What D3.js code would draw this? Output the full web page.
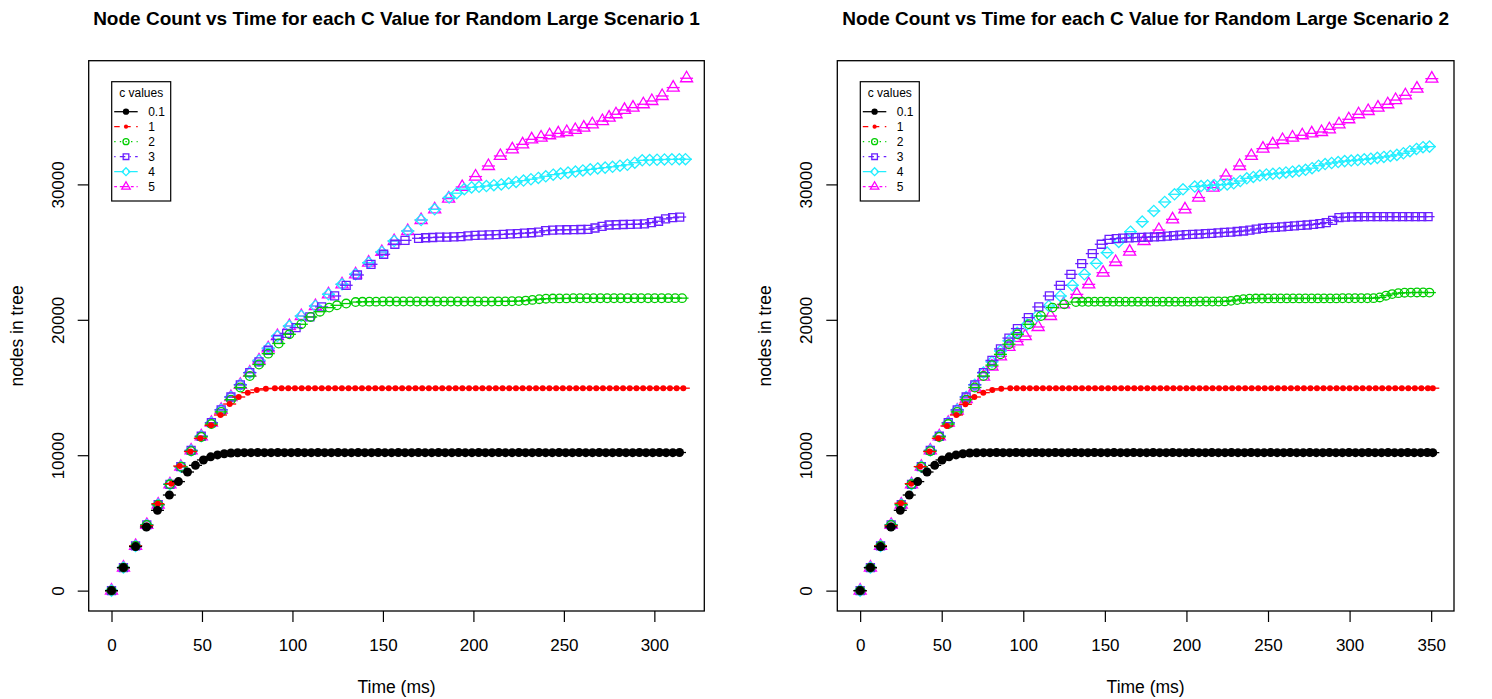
<!DOCTYPE html>
<html><head><meta charset="utf-8">
<script src="https://cdn.jsdelivr.net/npm/d3@7"></script>
<style>body{margin:0;background:#fff}svg{display:block}text{font-family:"Liberation Sans",Arial,Helvetica,sans-serif;fill:#000}</style>
</head><body><svg id="chart" width="1492" height="699"></svg>
<script>
// ---------------- DATA ----------------
const cValues = ["0.1","1","2","3","4","5"];
const titles = ["Node Count vs Time for each C Value for Random Large Scenario 1","Node Count vs Time for each C Value for Random Large Scenario 2"];
const xLabel = "Time (ms)";
const yLabel = "nodes in tree";
const legendTitle = "c values";
const xTicksLeft = [0,50,100,150,200,250,300];
const xTicksRight = [0,50,100,150,200,250,300,350];
const yTicks = [0,10000,20000,30000];
const xMaxLeft = 315, xMaxRight = 350, yMaxAll = 37630;

// Left panel: [time ms, nodes]
const L_c01 = [[0,0],[6.6,1700],[13.3,3250],[19.3,4700],[25.4,5930],[32,7060],[37,8050],[42,8760],[46.4,9250],[50.8,9650],[54.8,9880],[58.6,10020],[62.3,10110],[66,10160],[69.7,10180],
[73.4,10190],[77.1,10190],[80.8,10200],[84.5,10190],[88.2,10190],[91.9,10200],[95.6,10190],[99.3,10190],[103,10200],[106.7,10190],
[110.4,10190],[114.1,10200],[117.8,10190],[121.5,10190],[125.2,10200],[128.9,10190],[132.6,10190],[136.3,10200],[140,10190],[143.7,10190],
[147.4,10200],[151.1,10190],[154.8,10190],[158.5,10200],[162.2,10190],[165.9,10190],[169.6,10200],[173.3,10190],[177,10190],[180.7,10200],
[184.4,10190],[188.1,10190],[191.8,10200],[195.5,10190],[199.2,10190],[202.9,10200],[206.6,10190],[210.3,10190],[214,10200],[217.7,10190],
[221.4,10190],[225.1,10200],[228.8,10190],[232.5,10190],[236.2,10200],[239.9,10190],[243.6,10190],[247.3,10200],[251,10190],[254.7,10190],
[258.4,10200],[262.1,10190],[265.8,10190],[269.5,10200],[273.2,10190],[276.9,10190],[280.6,10200],[284.3,10190],[288,10190],[291.7,10200],
[295.4,10190],[299.1,10190],[302.8,10200],[306.5,10190],[310.2,10190],[313.9,10200]];
const L_c1 = [[0,0],[6.6,1700],[13.3,3300],[19.5,4800],[25.6,6420],[33.1,7900],[37.7,9200],[43.6,10270],[49.1,11250],[55,12210],[60.2,12970],[65.3,13780],[70.3,14300],[75.3,14620],[80.3,14820],[85.3,14910],[90.3,14940],
[94,14950],[97.7,14950],[101.4,14950],[105.1,14950],[108.8,14950],[112.5,14950],[116.2,14950],[119.9,14950],[123.6,14950],[127.3,14950],
[131,14950],[134.7,14950],[138.4,14950],[142.1,14950],[145.8,14950],[149.5,14950],[153.2,14950],[156.9,14950],[160.6,14950],[164.3,14950],
[168,14950],[171.7,14950],[175.4,14950],[179.1,14950],[182.8,14950],[186.5,14950],[190.2,14950],[193.9,14950],[197.6,14950],[201.3,14950],
[205,14950],[208.7,14950],[212.4,14950],[216.1,14950],[219.8,14950],[223.5,14950],[227.2,14950],[230.9,14950],[234.6,14950],[238.3,14950],
[242,14950],[245.7,14950],[249.4,14950],[253.1,14950],[256.8,14950],[260.5,14950],[264.2,14950],[267.9,14950],[271.6,14950],[275.3,14950],
[279,14950],[282.7,14950],[286.4,14950],[290.1,14950],[293.8,14950],[297.5,14950],[301.2,14950],[304.9,14950],[308.6,14950],[312.3,14950],[316,14950]];
const L_c2 = [[0,0],[6.6,1700],[13.3,3300],[19.5,4850],[25.8,6350],[32.3,7850],[38.5,9150],[44,10300],[49.6,11350],[55.2,12300],[60.6,13200],[66,14100],[71.2,15000],[76.4,15850],[81.5,16700],[86.6,17500],[92.4,18250],[98.3,18930],[104.9,19670],[110.1,20210],[115.2,20600],[120.3,20900],[124.6,21070],[129.7,21200],[134.9,21310],
[138.7,21330],[142.5,21340],[146.2,21340],[150,21350],[153.7,21350],[157.5,21350],[161.2,21350],[165,21350],[168.8,21350],[172.5,21350],
[176.3,21350],[180,21350],[183.8,21350],[187.5,21350],[191.3,21350],[195,21350],[198.8,21350],[202.6,21350],[206.3,21350],[210.1,21350],
[213.8,21360],[217.6,21360],[221.3,21370],[225.1,21380],[228.9,21420],[232.6,21470],[236.4,21520],[240.1,21560],[243.9,21570],[247.6,21580],
[251.4,21580],[255.2,21590],[258.9,21590],[262.7,21590],[266.4,21590],[270.2,21590],[273.9,21590],[277.7,21590],[281.4,21590],[285.2,21590],
[289,21590],[292.7,21590],[296.5,21590],[300.2,21590],[304,21590],[307.7,21600],[311.5,21600],[315.3,21600]];
const L_c3 = [[0,0],[6.6,1700],[13.3,3300],[19.5,4850],[25.8,6350],[32.3,7850],[38.3,9150],[44,10350],[49.6,11400],[55.2,12400],[60.6,13350],[66,14300],[71.2,15200],[76.4,16100],[81.5,16900],[86.6,17750],[91.7,18550],[96.8,19000],[102,19420],[109.6,20210],[116.1,20950],[123.3,21760],[129.7,22550],[135.9,23310],[143.4,24100],[150.4,24840],[156.6,25580],[162.2,25870],[169.7,26020],
[173.6,26060],[177.5,26080],[181.4,26100],[185.3,26110],[189.2,26120],[193.1,26150],[197,26200],[200.9,26230],[204.8,26250],[208.7,26270],
[212.6,26290],[216.5,26310],[220.4,26340],[224.3,26370],[228.2,26400],[232.1,26430],[236,26480],[239.9,26580],[243.8,26620],[247.7,26640],
[251.6,26650],[255.5,26660],[259.4,26670],[263.3,26680],[267.2,26780],[271.1,26900],[275,27000],[278.9,27020],[282.8,27040],[286.7,27050],
[290.6,27060],[294.5,27080],[298.4,27180],[302.3,27280],[306.2,27450],[310.1,27540],[314,27590]];
const L_c4 = [[0,0],[6.6,1700],[13.3,3300],[19.5,4850],[25.8,6350],[32.3,7850],[38.3,9150],[44,10350],[49.6,11400],[55.2,12400],[60.6,13350],[66,14300],[71.2,15200],[76.4,16100],[81.5,17000],[86.6,17900],[91.7,18800],[98.3,19540],[104.9,20280],[112.7,21020],[119.9,21880],[127.4,22620],[134.9,23360],[142.1,24220],[149.4,25010],[156.2,25820],[163.7,26560],[171.1,27370],[178.6,28160],[186.6,29030],[190.8,29350],[195,29650],
[199,29780],[203.1,29820],[207.2,29880],[211.3,29940],[215.4,30000],[219.5,30080],[223.6,30180],[227.7,30280],[231.8,30380],[235.9,30480],
[240,30600],[244.1,30720],[248.2,30800],[252.3,30870],[256.4,30950],[260.5,31030],[264.6,31110],[268.7,31180],[272.8,31240],[276.9,31300],
[281,31380],[285.1,31450],[289.2,31600],[293.3,31780],[297.4,31800],[301.5,31820],[305.6,31840],[309.7,31850],[313.8,31860],[317.2,31860]];
const L_c5 = [[0,0],[6.6,1700],[13.3,3300],[19.5,4850],[25.8,6350],[32.3,7850],[38.3,9150],[44,10350],[49.6,11400],[55.2,12400],[60.6,13350],[66,14300],[71.2,15200],[76.4,16100],[81.5,17000],[86.6,17900],[91.7,18800],[98.3,19540],[104.9,20280],[112.7,21020],[119.9,21880],[127.4,22620],[134.9,23360],[142.1,24220],[149.4,25010],[156.2,25820],[163.7,26560],[171.1,27370],[178.6,28160],[186.3,28950],[193.8,29810],[201.2,30580],[208.3,31360],[214.9,32100],[221.5,32590],[227.2,32960],[232.2,33330],
[237.4,33460],[242.1,33630],[246.9,33770],[251.6,33870],[256.3,34020],[261,34190],[265.7,34440],[271.3,34680],[275,34930],[278.8,35180],[283.5,35500],[288.2,35670],[293.9,35920],[298.6,36160],[304.3,36530],[310.4,37150],[317.8,37840]];

// Right panel: [time ms, nodes]
const R_c01 = [[0,0],[6.3,1700],[12.5,3250],[18.9,4700],[24.6,5930],[30.1,7060],[35.3,8050],[41,8760],[45.7,9250],[50.2,9650],[54.5,9880],[58.8,10020],[63,10110],[67.2,10160],[71.4,10180],
[75.6,10190],[79.6,10190],[83.6,10200],[87.6,10190],[91.6,10190],[95.6,10200],[99.6,10190],[103.6,10190],[107.6,10200],[111.6,10190],
[115.6,10190],[119.6,10200],[123.6,10190],[127.6,10190],[131.6,10200],[135.6,10190],[139.6,10190],[143.6,10200],[147.6,10190],[151.6,10190],
[155.6,10200],[159.6,10190],[163.6,10190],[167.6,10200],[171.6,10190],[175.6,10190],[179.6,10200],[183.6,10190],[187.6,10190],[191.6,10200],
[195.6,10190],[199.6,10190],[203.6,10200],[207.6,10190],[211.6,10190],[215.6,10200],[219.6,10190],[223.6,10190],[227.6,10200],[231.6,10190],
[235.6,10190],[239.6,10200],[243.6,10190],[247.6,10190],[251.6,10200],[255.6,10190],[259.6,10190],[263.6,10200],[267.6,10190],[271.6,10190],
[275.6,10200],[279.6,10190],[283.6,10190],[287.6,10200],[291.6,10190],[295.6,10190],[299.6,10200],[303.6,10190],[307.6,10190],[311.6,10200],
[315.6,10190],[319.6,10190],[323.6,10200],[327.6,10190],[331.6,10190],[335.6,10200],[339.6,10190],[343.6,10190],[347.6,10200],[351,10190]];
const R_c1 = [[0,0],[6.3,1700],[12.5,3300],[19,4800],[25,6450],[31.3,7900],[36.8,9160],[42.6,10270],[47.9,11250],[53.2,12160],[59,12970],[64.5,13760],[70,14300],[75.5,14620],[81,14820],[86.5,14910],[92,14940],
[96,14950],[100,14950],[104,14950],[108,14950],[112,14950],[116,14950],[120,14950],[124,14950],[128,14950],[132,14950],
[136,14950],[140,14950],[144,14950],[148,14950],[152,14950],[156,14950],[160,14950],[164,14950],[168,14950],[172,14950],
[176,14950],[180,14950],[184,14950],[188,14950],[192,14950],[196,14950],[200,14950],[204,14950],[208,14950],[212,14950],
[216,14950],[220,14950],[224,14950],[228,14950],[232,14950],[236,14950],[240,14950],[244,14950],[248,14950],[252,14950],
[256,14950],[260,14950],[264,14950],[268,14950],[272,14950],[276,14950],[280,14950],[284,14950],[288,14950],[292,14950],
[296,14950],[300,14950],[304,14950],[308,14950],[312,14950],[316,14950],[320,14950],[324,14950],[328,14950],[332,14950],
[336,14950],[340,14950],[344,14950],[348,14950],[351,14950]];
const R_c2 = [[0,0],[6.3,1700],[12.5,3300],[19,4850],[25.2,6350],[31.5,7850],[37.5,9150],[43,10300],[48.5,11350],[54,12300],[59.5,13200],[65,14100],[70.3,15000],[75.6,15850],[80.8,16650],[86,17450],[91.2,18200],[96.4,18930],[103.6,19670],[110.8,20280],[117.9,20900],[125.1,21140],[132.3,21310],
[136.1,21330],[139.9,21330],[143.7,21340],[147.5,21340],[151.3,21340],[155.1,21340],[158.9,21340],[162.7,21340],[166.5,21340],[170.3,21340],
[174.1,21340],[177.9,21340],[181.7,21340],[185.5,21340],[189.3,21340],[193.1,21340],[196.9,21340],[200.7,21340],[204.5,21340],[208.3,21350],
[212.1,21350],[215.9,21350],[219.7,21350],[223.5,21360],[227.3,21400],[231.1,21460],[234.9,21520],[238.7,21560],[242.5,21570],[246.3,21570],
[250.1,21580],[253.9,21580],[257.7,21580],[261.5,21580],[265.3,21580],[269.1,21580],[272.9,21580],[276.7,21580],[280.5,21580],[284.3,21580],
[288.1,21580],[291.9,21580],[295.7,21590],[299.5,21590],[303.3,21590],[307.1,21590],[310.9,21590],[314.7,21600],[318.5,21650],[322.3,21780],
[326.1,21900],[329.9,21970],[333.7,22000],[337.5,22010],[341.3,22020],[345.1,22020],[348.9,22010]];
const R_c3 = [[0,0],[6.3,1700],[12.5,3300],[19,4850],[25.2,6350],[31.5,7850],[37.5,9150],[43,10350],[48.5,11400],[54,12400],[59.5,13350],[65,14300],[70.3,15200],[75.6,16100],[80.8,17000],[86,17850],[91.2,18650],[96.4,19350],[103.1,20160],[109.5,20950],[116,21760],[122.7,22550],[129.2,23360],[135.8,24150],[142.3,24890],[147.8,25580],[152.6,25940],
[157,26000],[160.9,26030],[164.8,26050],[168.7,26070],[172.6,26090],[176.5,26110],[180.4,26130],[184.3,26150],[188.2,26180],[192.1,26210],
[196,26250],[199.9,26290],[203.8,26310],[207.7,26330],[211.6,26360],[215.5,26390],[219.4,26420],[223.3,26450],[227.2,26480],[231.1,26520],
[235,26560],[238.9,26620],[242.8,26700],[246.7,26760],[250.6,26810],[254.5,26830],[258.4,26860],[262.3,26900],[266.2,26940],[270.1,26970],
[274,27000],[277.9,27050],[281.8,27100],[285.7,27180],[289.6,27350],[293.5,27550],[297.4,27580],[301.3,27600],[305.2,27610],[309.1,27620],
[313,27620],[316.9,27620],[320.8,27620],[324.7,27620],[328.6,27620],[332.5,27620],[336.4,27620],[340.3,27620],[344.2,27620],[348.1,27620]];
const R_c4 = [[0,0],[6.3,1700],[12.5,3300],[19,4850],[25.2,6350],[31.5,7850],[37.5,9150],[43,10350],[48.5,11400],[54,12400],[59.5,13350],[65,14300],[70.3,15200],[75.6,16100],[80.8,16900],[86,17700],[91.2,18450],[96.2,19050],[102.3,19650],[108.4,20280],[115.6,21020],[122.7,21760],[130.1,22550],[137.5,23360],[144.7,24170],[151.4,24960],[158.5,25750],[165.7,26510],[172.9,27250],[180,28040],[186.7,28700],[192.7,29270],[197.9,29640],[205.1,29840],
[209,29880],[213,29920],[217,29950],[221,29980],[225,30000],[229,30080],[233,30250],[237,30450],[241,30550],[245,30650],
[249,30730],[253,30780],[257,30830],[261,30880],[265,30940],[269,31000],[273,31080],[277,31200],[281,31380],[285,31500],
[289,31580],[293,31650],[297,31720],[301,31760],[305,31800],[309,31850],[313,31900],[317,31960],[321,32030],[325,32100],
[329,32180],[333,32300],[337,32450],[341,32620],[345,32750],[349,32790]];
const R_c5 = [[0,0],[6.3,1700],[12.5,3300],[19,4850],[25.2,6350],[31.5,7850],[37.5,9150],[43,10350],[48.5,11400],[54,12400],[59.5,13300],[65,14150],[70.3,15000],[75.6,15800],[80.8,16550],[86,17300],[91.2,18000],[96.2,18400],
[101.2,18800],[109.1,19470],[116.7,20280],[124.6,21140],[132.8,21880],[140.1,22620],[148.9,23480],[156.6,24270],[165.2,25040],[174,25820],[183.1,26630],[191.5,27420],[199.1,28160],[207.5,29030],[216.3,29760],[224.2,30620],[232.6,31360],[239.8,32100],[246.9,32640],[252.9,32960],[258.9,33280],
[265,33460],[271,33630],[276.8,33770],[282.8,33870],[287.6,34070],[293.5,34440],[299.5,34810],[305.5,35180],[311.4,35420],[317.4,35670],[323.4,35920],[328.2,36230],[334.2,36580],[341.3,37070],[350.4,37810]];

const leftSeries = [L_c01, L_c1, L_c2, L_c3, L_c4, L_c5];
const rightSeries = [R_c01, R_c1, R_c2, R_c3, R_c4, R_c5];

// ---------------- STYLE ----------------
const colors = ["#000000","#ff0000","#00cd00","#6a1fff","#22eeff","#ff00ff"];
const shapes = ["pch16","pch20","pch1","pch0","pch5","pch2"];
const dashes = [null,"5.5,5.5","1.4,4.2","1.4,4.2,5.5,4.2","9.7,4.2","2.8,2.8,8.3,2.8"];

const svg = d3.select("#chart");
const yTop = 60.7, yBot = 611;
const panels = [
  {x0:88.7, x1:704.3, xMax:xMaxLeft, xTicks:xTicksLeft, title:titles[0], series:leftSeries},
  {x0:837.3, x1:1454, xMax:xMaxRight, xTicks:xTicksRight, title:titles[1], series:rightSeries}
];

function symbolPath(shape, cx, cy, s) {
  switch (shape) {
    case "pch0": { const h = 4*s; return `M${cx-h},${cy-h}H${cx+h}V${cy+h}H${cx-h}Z`; }
    case "pch5": { const h = 5.6*s; return `M${cx},${cy-h}L${cx+h},${cy}L${cx},${cy+h}L${cx-h},${cy}Z`; }
    case "pch2": { const r = 7*s, yc = 3.5*s, xc = 6.06*s; return `M${cx},${cy-r}L${cx+xc},${cy+yc}L${cx-xc},${cy+yc}Z`; }
  }
  return "";
}
function drawSymbol(g, shape, cx, cy, color, s) {
  if (shape === "pch16") g.append("circle").attr("cx",cx).attr("cy",cy).attr("r",4.5*s).attr("fill",color);
  else if (shape === "pch20") g.append("circle").attr("cx",cx).attr("cy",cy).attr("r",3*s).attr("fill",color);
  else if (shape === "pch1") g.append("circle").attr("cx",cx).attr("cy",cy).attr("r",4.3*s).attr("fill","none").attr("stroke",color).attr("stroke-width",1.3);
  else g.append("path").attr("d",symbolPath(shape,cx,cy,s)).attr("fill","none").attr("stroke",color).attr("stroke-width",1.3);
}

panels.forEach((p) => {
  const x = d3.scaleLinear().domain([-0.04*p.xMax, 1.04*p.xMax]).range([p.x0, p.x1]);
  const y = d3.scaleLinear().domain([-0.04*yMaxAll, 1.04*yMaxAll]).range([yBot, yTop]);
  const g = svg.append("g");

  const xa = g.append("g").attr("transform",`translate(0,${yBot})`)
    .call(d3.axisBottom(x).tickValues(p.xTicks).tickSize(11).tickFormat(d3.format("d")));
  xa.select(".domain").remove();
  xa.selectAll("line").attr("stroke","#000").attr("stroke-width",1.2);
  xa.selectAll("text").attr("y",39.5).attr("dy",0).style("font-size","17px").attr("fill","#000")
    .attr("font-family","Liberation Sans, Arial, sans-serif");

  const ya = g.append("g").attr("transform",`translate(${p.x0},0)`)
    .call(d3.axisLeft(y).tickValues(yTicks).tickSize(11).tickFormat(d3.format("d")));
  ya.select(".domain").remove();
  ya.selectAll("line").attr("stroke","#000").attr("stroke-width",1.2);
  ya.selectAll("text").attr("x",0).attr("dy",0).attr("text-anchor","middle")
    .attr("transform","translate(-25,0) rotate(-90)")
    .style("font-size","17px").attr("fill","#000").attr("font-family","Liberation Sans, Arial, sans-serif");

  g.append("rect").attr("x",p.x0).attr("y",yTop).attr("width",p.x1-p.x0).attr("height",yBot-yTop)
    .attr("fill","none").attr("stroke","#000").attr("stroke-width",1.3);

  g.append("text").attr("x",(p.x0+p.x1)/2).attr("y",25).attr("text-anchor","middle")
    .style("font-size","19px").style("font-weight","bold").text(p.title);
  g.append("text").attr("x",(p.x0+p.x1)/2).attr("y",693).attr("text-anchor","middle")
    .style("font-size","17.5px").text(xLabel);
  g.append("text").attr("transform",`translate(${p.x0-66},${(yTop+yBot)/2}) rotate(-90)`).attr("text-anchor","middle")
    .style("font-size","17.5px").text(yLabel);

  const plot = g.append("g");
  for (let si = p.series.length-1; si >= 0; si--) {
    const sg = plot.append("g");
    const col = colors[si];
    p.series[si].forEach(([t,n]) => {
      const cx = x(t), cy = y(n);
      sg.append("line").attr("x1",cx-6.5).attr("x2",cx+6.5).attr("y1",cy).attr("y2",cy)
        .attr("stroke",col).attr("stroke-width",1.3);
      drawSymbol(sg, shapes[si], cx, cy, col, 1);
    });
  }

  const lx = p.x0 + 23, ly = 81.7;
  const lg = g.append("g");
  lg.append("rect").attr("x",lx).attr("y",ly).attr("width",59).attr("height",119.3)
    .attr("fill","#fff").attr("stroke","#000").attr("stroke-width",1.2);
  lg.append("text").attr("x",lx+29.5).attr("y",ly+15).attr("text-anchor","middle").style("font-size","12px").text(legendTitle);
  cValues.forEach((c,i) => {
    const ry = ly + 30 + 15*i;
    lg.append("line").attr("x1",lx+2.5).attr("x2",lx+26).attr("y1",ry).attr("y2",ry)
      .attr("stroke",colors[i]).attr("stroke-width",1.3).attr("stroke-dasharray",dashes[i]);
    drawSymbol(lg, shapes[i], lx+14.3, ry, colors[i], 0.7);
    lg.append("text").attr("x",lx+36.5).attr("y",ry+4.3).style("font-size","12px").text(c);
  });
});
</script></body></html>
